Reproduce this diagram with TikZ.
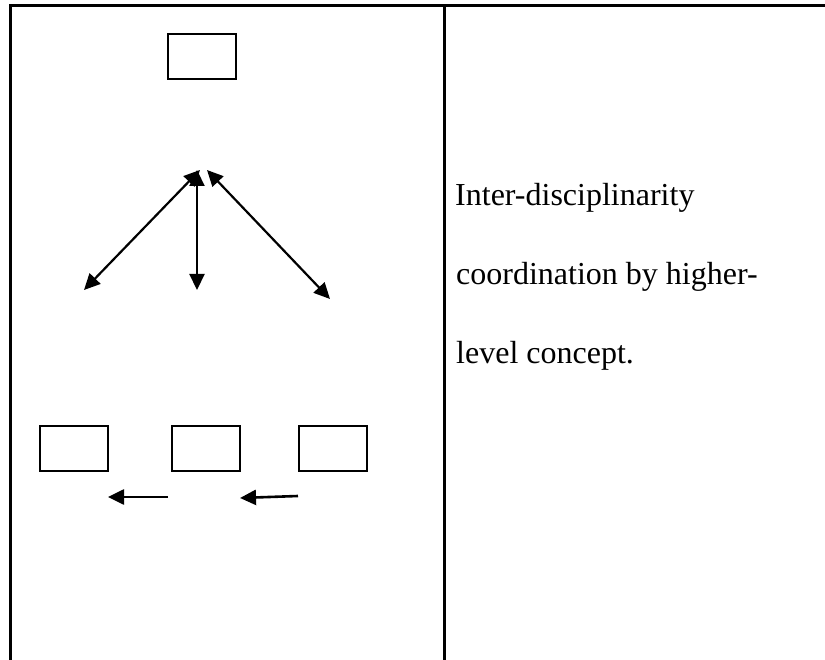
\documentclass[tikz,border=0pt]{standalone}
\usepackage{fontspec}
\setmainfont{Liberation Serif}
\usetikzlibrary{arrows.meta}
\begin{document}
\begin{tikzpicture}[x=1pt,y=-1pt,
  rule/.style={line width=3pt},
  cbox/.style={draw,line width=2pt,minimum width=68pt,minimum height=45pt,inner sep=0pt},
  link/.style={line width=2.2pt,{Triangle[length=16pt,width=15pt]}-{Triangle[length=16pt,width=15pt]}},
  oneway/.style={line width=2.6pt,-{Triangle[length=16pt,width=15pt]}},
  note/.style={anchor=base west,inner sep=0pt,font=\fontsize{32}{32}\selectfont}]
\useasboundingbox (0,0) rectangle (825,660);
% table rules
\coordinate (tl) at (10,6);
\coordinate (tr) at (825,6);
\coordinate (bl) at (10,660);
\coordinate (mt) at (444,6);
\coordinate (mb) at (444,660);
\draw[rule] (tr) -- (tl) -- (bl);
\draw[rule] (mt) -- (mb);
% concept boxes
\node[cbox] (top) at (201.5,57) {};
\node[cbox] (b1) at (73.5,448.5) {};
\node[cbox] (b2) at (206,448.5) {};
\node[cbox] (b3) at (332.5,448.5) {};
% coordination arrows
\coordinate (hubL) at (200,170);
\coordinate (hubM) at (197,170);
\coordinate (hubR) at (207,170);
\coordinate (endL) at (84,290);
\coordinate (endM) at (197,290);
\coordinate (endR) at (330,299);
\draw[link] (hubL) -- (endL);
\draw[link] (hubM) -- (endM);
\draw[link] (hubR) -- (endR);
% lower arrows
\coordinate (a1s) at (168,497);
\coordinate (a1e) at (108,497);
\coordinate (a2s) at (298,496);
\coordinate (a2e) at (240,498);
\draw[oneway] (a1s) -- (a1e);
\draw[oneway] (a2s) -- (a2e);
% description
\node[note] (t1) at (455,206) {Inter-disciplinarity};
\node[note] (t2) at (456,285) {coordination by higher-};
\node[note] (t3) at (456,363) {level concept.};
\end{tikzpicture}
\end{document}
